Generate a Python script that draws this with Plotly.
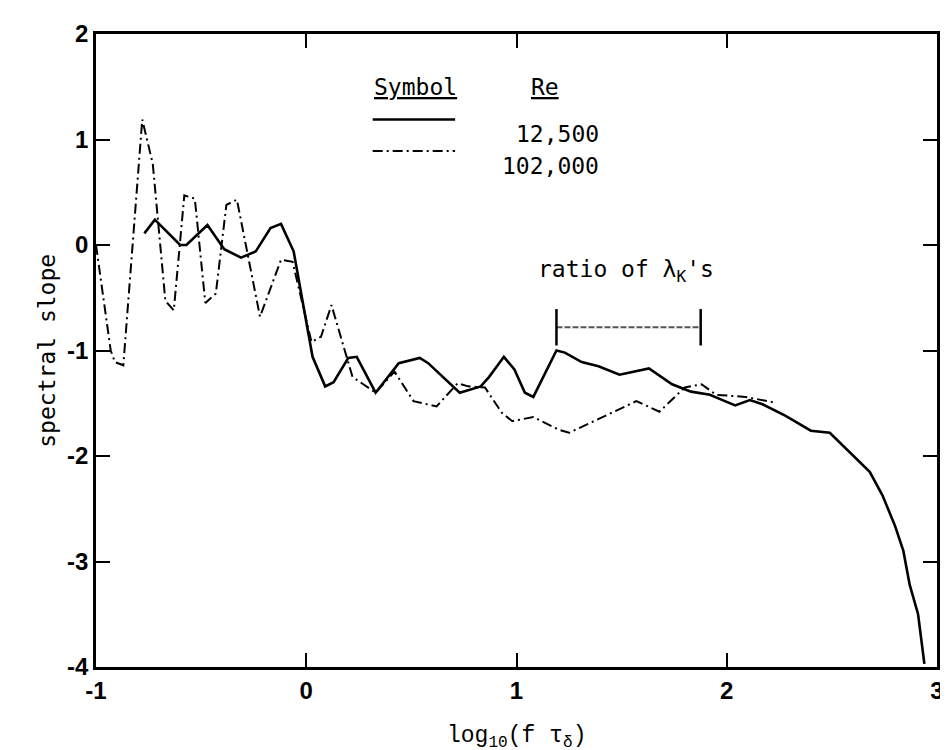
import plotly.graph_objects as go

# ── data ──
# Re = 12,500 (solid)
re125_x = [-0.77, -0.72, -0.60, -0.57, -0.47, -0.39, -0.31, -0.24, -0.17, -0.12, -0.06,
           0.03, 0.09, 0.13, 0.20, 0.24, 0.33, 0.44, 0.54, 0.58, 0.73, 0.83, 0.87, 0.94,
           0.99, 1.04, 1.08, 1.19, 1.23, 1.31, 1.39, 1.49, 1.63, 1.74, 1.83, 1.92, 1.98,
           2.04, 2.11, 2.17, 2.28, 2.40, 2.49, 2.59, 2.68, 2.74, 2.80, 2.84, 2.87, 2.91, 2.94]
re125_y = [0.11, 0.24, 0.00, 0.00, 0.19, -0.04, -0.12, -0.06, 0.16, 0.20, -0.06,
           -1.06, -1.34, -1.30, -1.07, -1.06, -1.40, -1.12, -1.07, -1.12, -1.40, -1.34, -1.25, -1.06,
           -1.18, -1.40, -1.44, -1.00, -1.02, -1.11, -1.15, -1.23, -1.17, -1.32, -1.39, -1.42, -1.47,
           -1.52, -1.47, -1.51, -1.62, -1.76, -1.78, -1.98, -2.15, -2.37, -2.66, -2.90, -3.22, -3.50, -3.97]

# Re = 102,000 (dash-dot)
re102_x = [-1.00, -0.93, -0.91, -0.87, -0.78, -0.73, -0.67, -0.63, -0.58, -0.53, -0.48, -0.43,
           -0.38, -0.33, -0.22, -0.12, -0.065, 0.025, 0.07, 0.12, 0.22, 0.33, 0.42, 0.51, 0.62,
           0.72, 0.77, 0.85, 0.93, 0.98, 1.08, 1.20, 1.25, 1.42, 1.57, 1.68, 1.80, 1.88, 1.95,
           2.09, 2.22]
re102_y = [0.00, -1.00, -1.11, -1.14, 1.19, 0.77, -0.53, -0.62, 0.47, 0.44, -0.55, -0.46,
           0.38, 0.43, -0.68, -0.14, -0.16, -0.92, -0.87, -0.57, -1.25, -1.40, -1.20, -1.48, -1.53,
           -1.31, -1.34, -1.35, -1.59, -1.67, -1.63, -1.75, -1.78, -1.62, -1.48, -1.58, -1.35, -1.32, -1.42,
           -1.44, -1.49]

# "ratio of lambda_K's" bracket
ratio_x = [1.19, 1.876]
ratio_y = [-0.78, -0.78]

x_ticks = [-1, 0, 1, 2, 3]
y_ticks = [-4, -3, -2, -1, 0, 1, 2]

legend_rows = ["12,500", "102,000"]

DASHDOT = "10px,4px,2px,4px"
MONO = "DejaVu Sans Mono"

fig = go.Figure()

fig.add_trace(go.Scatter(
    x=re125_x, y=re125_y, mode="lines",
    line=dict(color="black", width=2.6),
    showlegend=False,
))
fig.add_trace(go.Scatter(
    x=re102_x, y=re102_y, mode="lines",
    line=dict(color="black", width=2, dash=DASHDOT),
    showlegend=False,
))

# bracket: dashed span with vertical end caps
fig.add_trace(go.Scatter(
    x=ratio_x, y=ratio_y, mode="lines+markers",
    line=dict(color="#555", width=2, dash="6px,2px"),
    marker=dict(symbol="line-ns", size=26, line=dict(color="black", width=2.5)),
    showlegend=False, hoverinfo="skip",
))
fig.add_annotation(
    x=sum(ratio_x) / 2 - 0.01, y=ratio_y[0], yshift=56, xref="x", yref="y",
    text="ratio of λ<sub>K</sub>'s", showarrow=False,
    font=dict(family=MONO, size=23, color="black"),
)

# ── table-style legend ──
fig.add_annotation(x=0.380, y=0.940, xref="paper", yref="paper",
                   text="<u>Symbol</u>", showarrow=False,
                   font=dict(family=MONO, size=23, color="black"))
fig.add_annotation(x=0.534, y=0.940, xref="paper", yref="paper",
                   text="<u>Re</u>", showarrow=False,
                   font=dict(family=MONO, size=23, color="black"))
for label, y, dash, w in zip(legend_rows, [0.865, 0.815], ["solid", DASHDOT], [2.6, 2]):
    fig.add_shape(type="line", xref="paper", yref="paper",
                  x0=0.329, x1=0.427, y0=y, y1=y,
                  line=dict(color="black", width=w, dash=dash))
    fig.add_annotation(x=0.600, y=y, xref="paper", yref="paper",
                       text=label, showarrow=False, xanchor="right",
                       font=dict(family=MONO, size=23, color="black"))

# axis titles
fig.add_annotation(x=-0.077, y=0.5, xref="paper", yref="paper",
                   text="spectral slope", textangle=-90, showarrow=False,
                   font=dict(family=MONO, size=23, color="black"))
fig.add_annotation(x=0.5, y=-0.112, xref="paper", yref="paper", yanchor="middle",
                   text="log<sub>10</sub>(f τ<sub>δ</sub>)", showarrow=False,
                   font=dict(family="Liberation Mono", size=23, color="black"))

axis_common = dict(
    showgrid=False, zeroline=False,
    showline=True, linecolor="black", linewidth=2.5, mirror="ticks",
    ticks="inside", ticklen=14, tickwidth=2, tickcolor="black",
    tickfont=dict(family="Liberation Sans", size=24, color="black", weight="bold"),
)

fig.update_layout(
    width=948, height=750,
    paper_bgcolor="white", plot_bgcolor="white",
    margin=dict(l=88, r=13, t=21, b=91),
    xaxis=dict(range=[-1, 3], tickvals=x_ticks, ticktext=[str(v) for v in x_ticks], **axis_common),
    yaxis=dict(range=[-4, 2], tickvals=y_ticks, ticktext=[str(v) for v in y_ticks], **axis_common),
    showlegend=False,
)

fig.write_html("out.html")
